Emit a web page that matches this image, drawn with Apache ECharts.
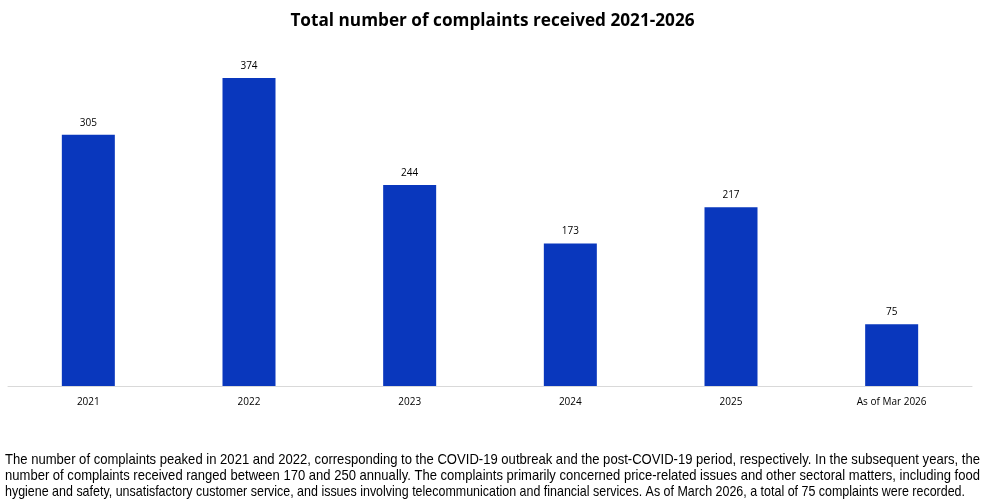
<!DOCTYPE html>
<html><head><meta charset="utf-8">
<script src="https://cdn.jsdelivr.net/npm/echarts@6/dist/echarts.min.js"></script>
<style>html,body{margin:0;padding:0;background:#fff}#c{width:985px;height:504px}</style>
</head><body><div id="c"></div>
<script>
const categories = ['2021','2022','2023','2024','2025','As of Mar 2026'];
const complaints = [305, 374, 244, 173, 217, 75];
const titleText = 'Total number of complaints received 2021-2026';
const noteLines = [
  'The number of complaints peaked in 2021 and 2022, corresponding to the COVID-19 outbreak and the post-COVID-19 period, respectively. In the subsequent years, the',
  'number of complaints received ranged between 170 and 250 annually. The complaints primarily concerned price-related issues and other sectoral matters, including food',
  'hygiene and safety, unsatisfactory customer service, and issues involving telecommunication and financial services. As of March 2026, a total of 75 complaints were recorded.'
];
const noteWidths = [975, 975, 960];
const chart = echarts.init(document.getElementById('c'));
const noteFont = '15px "Liberation Sans", sans-serif';
const ctx = document.createElement('canvas').getContext('2d');
ctx.font = noteFont;
chart.setOption({
  animation: false,
  title: { text: titleText, left: 'center', top: 8,
    textStyle: { fontFamily: 'Open Sans', fontWeight: 'bold', fontSize: 17.2, color: '#000' } },
  grid: { left: 8, right: 13, top: 56.6, bottom: 118, containLabel: false },
  xAxis: { type: 'category', data: categories,
    axisLine: { lineStyle: { color: '#d9d9d9', width: 1 } },
    axisTick: { show: false },
    axisLabel: { color: '#000', fontSize: 10, fontFamily: 'Open Sans', margin: 11 } },
  yAxis: { type: 'value', min: 0, max: 400, show: false, splitLine: { show: false } },
  series: [{ type: 'bar', data: complaints, barWidth: 53,
    itemStyle: { color: '#0937bd' },
    label: { show: true, position: 'top', distance: 7, color: '#000', fontSize: 10, fontFamily: 'Open Sans' } }],
  graphic: noteLines.map((t, i) => ({ type: 'text', x: 5, y: 460 + i * 16,
    scaleX: noteWidths[i] / ctx.measureText(t).width,
    style: { text: t, x: 0, y: 0, font: noteFont, fill: '#000', textVerticalAlign: 'middle', textAlign: 'left' } }))
});
</script></body></html>
